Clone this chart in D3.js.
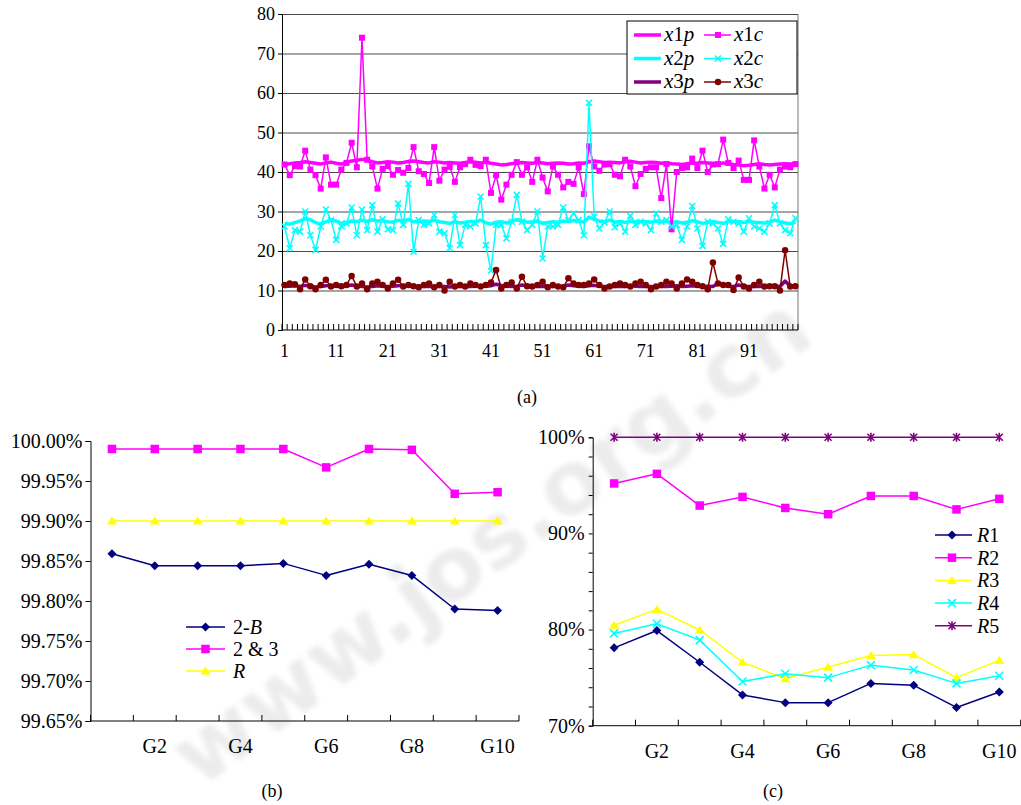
<!DOCTYPE html>
<html>
<head>
<meta charset="utf-8">
<script src="https://d3js.org/d3.v7.min.js"></script>
<style>
  body { margin: 0; background: #fff; }
  svg text { font-family: "Liberation Serif", "Times New Roman", serif; fill: #000; }
</style>
</head>
<body>
<svg id="chart" width="1021" height="805"></svg>
<script>
// ---- data (a) ----
const idx = d3.range(1, 101);
const aTicks = [0, 10, 20, 30, 40, 50, 60, 70, 80];
const aLabels = [1, 11, 21, 31, 41, 51, 61, 71, 81, 91];

const x1p = [41.9,42.1,42.3,42.4,42.6,42.4,42.2,42.0,42.3,42.5,
  42.2,42.0,42.4,42.8,43.0,43.2,43.0,42.6,42.3,42.4,
  42.6,42.5,42.3,42.4,42.7,42.8,42.6,42.4,42.3,42.6,
  42.5,42.3,42.4,42.3,42.2,42.4,42.6,42.5,42.3,42.5,
  42.2,42.0,41.8,41.9,42.1,42.3,42.4,42.3,42.2,42.4,
  42.3,42.1,42.2,42.3,42.2,42.0,42.1,42.3,42.2,42.6,
  42.8,42.6,42.4,42.5,42.4,42.3,42.6,42.7,42.5,42.3,
  42.4,42.5,42.4,42.2,42.3,42.1,42.0,41.9,42.1,42.3,
  42.2,42.4,42.3,42.1,42.0,42.3,42.1,41.9,41.8,41.6,
  41.7,41.9,42.1,41.9,41.8,41.9,42.0,42.1,42.0,42.1];
const x2p = [27.0,26.8,27.2,27.6,28.2,27.9,27.2,26.8,27.4,27.9,
  27.6,27.0,27.2,27.6,27.4,27.8,27.5,27.9,27.6,27.7,
  27.4,27.3,27.8,27.6,28.0,27.4,27.5,27.6,27.5,27.8,
  27.4,27.2,27.0,27.4,27.1,27.3,27.5,27.4,27.8,27.2,
  26.8,27.3,27.4,27.1,27.5,27.9,27.6,27.3,27.4,27.6,
  27.0,27.2,27.4,27.3,27.6,27.5,27.7,27.6,27.3,28.6,
  28.0,27.6,27.4,27.8,27.3,27.5,27.2,27.6,27.4,27.5,
  27.4,27.3,27.6,27.4,27.5,27.3,27.4,27.1,27.3,27.7,
  27.4,27.0,27.3,27.4,27.2,27.0,27.4,27.5,27.4,27.2,
  27.5,27.3,27.2,27.1,27.3,27.8,27.4,27.1,26.9,27.3];
const x3p = [11.0,11.1,11.2,11.0,11.3,11.1,10.9,11.0,11.2,11.3,
  11.1,11.0,11.1,11.4,11.2,11.0,10.9,11.0,11.2,11.1,
  11.0,11.1,11.2,11.3,11.1,11.0,11.1,11.0,11.1,11.0,
  11.1,11.0,10.9,11.1,11.0,11.1,11.0,11.1,11.2,11.1,
  11.2,11.6,11.3,11.1,11.0,11.1,11.4,11.2,11.1,11.0,
  11.1,11.0,11.1,11.0,11.1,11.4,11.2,11.1,11.0,11.2,
  11.3,11.1,11.0,11.1,11.0,11.1,11.0,11.2,11.1,11.0,
  11.1,11.0,10.9,11.1,11.0,11.1,11.2,11.0,11.1,11.2,
  11.1,11.0,11.1,11.0,11.8,11.3,11.1,11.0,11.4,11.1,
  11.0,11.1,11.0,11.1,11.0,11.1,11.0,12.4,11.1,11.0];
const x1c = [41.9,39.2,41.5,41.4,45.4,40.6,39.2,35.8,43.7,36.8,
  36.8,40.6,42.3,47.4,41.2,74,43.1,41.4,35.8,40.8,
  41.5,39.3,40.5,39.8,41,46.3,40.2,39.5,37.2,46.3,
  37.8,40.6,41.3,37.5,41.2,42,43.1,41.8,41.5,43.1,
  34.7,39.2,33,36.8,39.3,42.5,39.3,41.2,37.5,43.1,
  38.6,35.1,41.4,39.3,36.1,37.5,37,41.2,34.4,46.5,
  41.4,40.3,41.9,42,39.3,38.9,43.1,41.4,36.4,39.5,
  40.8,41.2,41.2,33.4,42,25.5,40,41,41.2,43.4,
  41,45.4,40,41.9,42,48.2,42.3,41,42.9,38,
  38,48,41.4,35.8,39.3,36.1,40.6,41.4,41.2,42];
const x2c = [26.2,20.7,25.3,24.9,30,24,20.3,26.2,30.5,27.8,
  22.8,26.3,27,31,24,30.5,25.3,31.6,24.9,28,
  25.5,25.3,32,26.6,37,19.8,27.8,26.6,27,29.1,
  24.9,24.5,20.7,29.1,21.5,26.6,26.2,27,33.8,21.5,
  15,26.6,26.6,23.2,27.4,34.2,27.4,25.3,26.6,30,
  18.1,26.2,26.2,26.6,31,27.8,29.5,27.8,24,57.5,
  28.7,25.7,27.2,30,26,27,24.9,28.9,26.6,27.4,
  27,25.3,29.5,27.4,27.8,26.2,26.6,22.8,26.2,31.4,
  25.7,21.3,27.4,27,25.7,21.8,28,27.4,27,24.9,
  28.3,26.2,25.7,24.9,27,31.6,27,25.3,24.5,28.3];
const x3c = [11.4,11.8,11.6,10.3,12.8,11.1,10.3,11.4,12.7,11,
  11.4,11.1,11.4,13.7,11,11.8,10.3,11.8,12.2,11.4,
  10.5,11.8,12.7,11,11.4,11.1,10.8,11.4,11.8,10.8,
  11.4,10,12.2,11,11.4,11,11.8,11.4,11,11.4,
  12,15.2,10.5,11.4,12,10.5,13.5,11.1,11,11.4,
  12.2,10.8,11.4,11,10.8,13.1,11.8,11.4,11.4,11.8,
  12.8,11.4,10.5,11,11.4,11.8,11.4,11,11.8,12.2,
  11.4,10.3,11,11.4,12.2,11.8,10.5,11.8,12.8,12.2,
  11.4,11.1,10.3,17.1,11.8,11.4,11.4,10.1,13.3,11,
  10.5,11.4,12.2,11,11.1,11.1,10,20.2,11,11.1];

// ---- data (b) ----
const groups = ["G1","G2","G3","G4","G5","G6","G7","G8","G9","G10"];
const groupLabels = ["G2","G4","G6","G8","G10"];
const bTicks = [99.65, 99.70, 99.75, 99.80, 99.85, 99.90, 99.95, 100.00];
const twoB = [99.859, 99.844, 99.844, 99.844, 99.847, 99.832, 99.846, 99.832, 99.790, 99.788];
const two3 = [99.990, 99.990, 99.990, 99.990, 99.990, 99.967, 99.990, 99.989, 99.934, 99.936];
const rB   = [99.90, 99.90, 99.90, 99.90, 99.90, 99.90, 99.90, 99.90, 99.90, 99.90];

// ---- data (c) ----
const cTicks = [70, 72, 74, 76, 78, 80, 82, 84, 86, 88, 90, 92, 94, 96, 98, 100];
const cLabels = [70, 80, 90, 100];
const r1 = [78.1, 79.9, 76.6, 73.2, 72.4, 72.4, 74.4, 74.2, 71.9, 73.5];
const r2 = [95.2, 96.2, 92.9, 93.8, 92.65, 92.0, 93.9, 93.9, 92.5, 93.6];
const r3 = [80.45, 82.1, 79.96, 76.6, 74.9, 76.1, 77.3, 77.4, 75.0, 76.8];
const r4 = [79.6, 80.6, 78.9, 74.6, 75.4, 75.0, 76.3, 75.8, 74.4, 75.2];
const r5 = [100, 100, 100, 100, 100, 100, 100, 100, 100, 100];

const SERIF = '"Liberation Serif", "Times New Roman", serif';
const svg = d3.select('#chart');

// faint blurred watermark behind everything
const defs = svg.append('defs');
defs.append('filter').attr('id', 'soft').append('feGaussianBlur').attr('stdDeviation', 2.5);
svg.append('text')
  .attr('transform', 'translate(490,540) rotate(-36)')
  .attr('text-anchor', 'middle').attr('dy', '0.35em')
  .attr('filter', 'url(#soft)')
  .style('font-family', '"DejaVu Sans"').style('font-weight', 'bold')
  .style('font-size', '88px').style('fill', '#ececec')
  .text('www.jos.org.cn');

// markers
function mark(g, type, s, color) {
  const h = s / 2;
  if (type === 'square') {
    g.append('rect').attr('x', -h).attr('y', -h).attr('width', s).attr('height', s).attr('fill', color);
  } else if (type === 'diamond') {
    g.append('path').attr('d', `M0,${-h}L${h},0L0,${h}L${-h},0Z`).attr('fill', color);
  } else if (type === 'triangle') {
    g.append('path').attr('d', `M0,${-h}L${h * 1.1},${h * 0.8}L${-h * 1.1},${h * 0.8}Z`).attr('fill', color);
  } else if (type === 'circle') {
    g.append('circle').attr('r', h).attr('fill', color);
  } else if (type === 'x' || type === 'star') {
    let d = `M${-h},${-h}L${h},${h}M${-h},${h}L${h},${-h}`;
    if (type === 'star') d += `M0,${-h - 1}L0,${h + 1}`;
    g.append('path').attr('d', d).attr('stroke', color).attr('stroke-width', 1.6).attr('fill', 'none');
  }
}

function series(g, x, y, cats, vals, color, width, type, size) {
  const line = d3.line().x((d, i) => x(cats[i]) + x.bandwidth() / 2).y(d => y(d));
  g.append('path').datum(vals).attr('d', line)
    .attr('fill', 'none').attr('stroke', color).attr('stroke-width', width).attr('stroke-linejoin', 'round');
  if (type) {
    vals.forEach((v, i) => {
      const m = g.append('g').attr('transform', `translate(${x(cats[i]) + x.bandwidth() / 2},${y(v)})`);
      mark(m, type, size, color);
    });
  }
}

function styleAxis(g, size) {
  g.attr('font-family', SERIF).attr('font-size', size);
  g.selectAll('text').attr('font-family', SERIF).style('font-family', SERIF).style('font-size', size + 'px');
  g.selectAll('line').attr('stroke', '#000');
  g.select('.domain').attr('stroke', '#000');
}

function boundaryTicks(g, x, y0, len) {
  const pos = x.domain().map(d => x(d)).concat([x.range()[1]]);
  g.append('g').selectAll('line').data(pos).join('line')
    .attr('x1', d => d).attr('x2', d => d).attr('y1', y0).attr('y2', y0 - len)
    .attr('stroke', '#000');
}

// ===== (a) =====
const xa = d3.scaleBand().domain(idx).range([282, 798]);
const ya = d3.scaleLinear().domain([0, 80]).range([330, 14]);
const ga = svg.append('g');

ga.append('g').attr('transform', 'translate(282,0)')
  .call(d3.axisLeft(ya).tickValues(aTicks.slice(1)).tickSize(-516).tickFormat(''))
  .call(g => g.select('.domain').remove())
  .selectAll('line').attr('stroke', '#4a4a4a');
ga.append('line').attr('x1', 798).attr('x2', 798).attr('y1', 14).attr('y2', 330).attr('stroke', '#777');

ga.append('g').attr('transform', 'translate(282,0)')
  .call(d3.axisLeft(ya).tickValues(aTicks).tickSize(4).tickPadding(3))
  .call(g => styleAxis(g, 18));

ga.append('line').attr('x1', 282).attr('x2', 798).attr('y1', 330).attr('y2', 330).attr('stroke', '#000');
boundaryTicks(ga, xa, 330, 6);
ga.append('g').attr('transform', 'translate(0,330)')
  .call(d3.axisBottom(xa).tickValues(aLabels).tickSize(0).tickPadding(14))
  .call(g => g.select('.domain').remove())
  .call(g => styleAxis(g, 18));

series(ga, xa, ya, idx, x1p, '#ff00ff', 3.5);
series(ga, xa, ya, idx, x2p, '#00ffff', 3.5);
series(ga, xa, ya, idx, x3p, '#800080', 3.5);
series(ga, xa, ya, idx, x1c, '#ff00ff', 1.5, 'square', 6);
series(ga, xa, ya, idx, x2c, '#00ffff', 1.5, 'x', 6);
series(ga, xa, ya, idx, x3c, '#800000', 1.5, 'circle', 6.5);

// legend (a)
const la = ga.append('g');
la.append('rect').attr('x', 627).attr('y', 21).attr('width', 170).attr('height', 73)
  .attr('fill', '#fff').attr('stroke', '#000');
const aLeg = [
  { n: '1', s: 'p', c: '#ff00ff', w: 3.5, col: 0, row: 0 },
  { n: '1', s: 'c', c: '#ff00ff', w: 1.5, col: 1, row: 0, t: 'square', sz: 6 },
  { n: '2', s: 'p', c: '#00ffff', w: 3.5, col: 0, row: 1 },
  { n: '2', s: 'c', c: '#00ffff', w: 1.5, col: 1, row: 1, t: 'x', sz: 6 },
  { n: '3', s: 'p', c: '#800080', w: 3.5, col: 0, row: 2 },
  { n: '3', s: 'c', c: '#800000', w: 1.5, col: 1, row: 2, t: 'circle', sz: 6.5 }
];
aLeg.forEach(d => {
  const x0 = d.col ? 704 : 634, yy = 35 + d.row * 23.5;
  la.append('line').attr('x1', x0).attr('x2', x0 + 27).attr('y1', yy).attr('y2', yy)
    .attr('stroke', d.c).attr('stroke-width', d.w);
  if (d.t) mark(la.append('g').attr('transform', `translate(${x0 + 14},${yy})`), d.t, d.sz, d.c);
  const t = la.append('text').attr('x', x0 + 30).attr('y', yy + 6).style('font-size', '21px');
  t.append('tspan').style('font-style', 'italic').text('x');
  t.append('tspan').text(d.n);
  t.append('tspan').style('font-style', 'italic').text(d.s);
});

svg.append('text').attr('x', 527).attr('y', 403).attr('text-anchor', 'middle').style('font-size', '18px').text('(a)');

// ===== (b) =====
const xb = d3.scaleBand().domain(groups).range([90.5, 519]);
const yb = d3.scaleLinear().domain([99.65, 100]).range([721, 441]);
const gb = svg.append('g');

gb.append('g').attr('transform', 'translate(90.5,0)')
  .call(d3.axisLeft(yb).tickValues(bTicks).tickSize(5).tickPadding(3).tickFormat(d => d.toFixed(2) + '%'))
  .call(g => styleAxis(g, 20));
gb.append('line').attr('x1', 90.5).attr('x2', 519).attr('y1', 721).attr('y2', 721).attr('stroke', '#000');
boundaryTicks(gb, xb, 721, 6);
gb.append('g').attr('transform', 'translate(0,721)')
  .call(d3.axisBottom(xb).tickValues(groupLabels).tickSize(0).tickPadding(18))
  .call(g => g.select('.domain').remove())
  .call(g => styleAxis(g, 20));

series(gb, xb, yb, groups, twoB, '#000080', 1.5, 'diamond', 9);
series(gb, xb, yb, groups, two3, '#ff00ff', 1.5, 'square', 8.5);
series(gb, xb, yb, groups, rB, '#ffff00', 1.5, 'triangle', 9);

const bLeg = [
  { c: '#000080', t: 'diamond', sz: 9, parts: [['2-', 0], ['B', 1]] },
  { c: '#ff00ff', t: 'square', sz: 8.5, parts: [['2 & 3', 0]] },
  { c: '#ffff00', t: 'triangle', sz: 9, parts: [['R', 1]] }
];
bLeg.forEach((d, i) => {
  const yy = 627 + i * 22;
  gb.append('line').attr('x1', 186).attr('x2', 225).attr('y1', yy).attr('y2', yy).attr('stroke', d.c).attr('stroke-width', 1.5);
  mark(gb.append('g').attr('transform', `translate(205.5,${yy})`), d.t, d.sz, d.c);
  const t = gb.append('text').attr('x', 233).attr('y', yy + 7).style('font-size', '20px');
  d.parts.forEach(p => t.append('tspan').style('font-style', p[1] ? 'italic' : 'normal').text(p[0]));
});

svg.append('text').attr('x', 272).attr('y', 797).attr('text-anchor', 'middle').style('font-size', '18px').text('(b)');

// ===== (c) =====
const xc = d3.scaleBand().domain(groups).range([592.7, 1020.7]);
const yc = d3.scaleLinear().domain([70, 100]).range([725.7, 437.3]);
const gc = svg.append('g');

gc.append('g').attr('transform', 'translate(592.7,0)')
  .call(d3.axisLeft(yc).tickValues(cTicks).tickSize(4).tickPadding(4)
    .tickFormat(d => cLabels.includes(d) ? d + '%' : ''))
  .call(g => styleAxis(g, 20));
gc.append('line').attr('x1', 592.7).attr('x2', 1020.7).attr('y1', 725.7).attr('y2', 725.7).attr('stroke', '#000');
boundaryTicks(gc, xc, 725.7, 6);
gc.append('g').attr('transform', 'translate(0,725.7)')
  .call(d3.axisBottom(xc).tickValues(groupLabels).tickSize(0).tickPadding(18))
  .call(g => g.select('.domain').remove())
  .call(g => styleAxis(g, 20));

series(gc, xc, yc, groups, r1, '#000080', 1.5, 'diamond', 9);
series(gc, xc, yc, groups, r2, '#ff00ff', 1.5, 'square', 8.5);
series(gc, xc, yc, groups, r3, '#ffff00', 1.5, 'triangle', 9);
series(gc, xc, yc, groups, r4, '#00ffff', 1.5, 'x', 8);
series(gc, xc, yc, groups, r5, '#800080', 1.5, 'star', 7);

const cLeg = [
  { c: '#000080', t: 'diamond', sz: 9, n: '1' },
  { c: '#ff00ff', t: 'square', sz: 8.5, n: '2' },
  { c: '#ffff00', t: 'triangle', sz: 9, n: '3' },
  { c: '#00ffff', t: 'x', sz: 8, n: '4' },
  { c: '#800080', t: 'star', sz: 7, n: '5' }
];
cLeg.forEach((d, i) => {
  const yy = 535 + i * 22.7;
  gc.append('line').attr('x1', 935).attr('x2', 972).attr('y1', yy).attr('y2', yy).attr('stroke', d.c).attr('stroke-width', 1.5);
  mark(gc.append('g').attr('transform', `translate(952,${yy})`), d.t, d.sz, d.c);
  const t = gc.append('text').attr('x', 977).attr('y', yy + 7).style('font-size', '20px');
  t.append('tspan').style('font-style', 'italic').text('R');
  t.append('tspan').text(d.n);
});

svg.append('text').attr('x', 773).attr('y', 797).attr('text-anchor', 'middle').style('font-size', '18px').text('(c)');
</script>
</body>
</html>
